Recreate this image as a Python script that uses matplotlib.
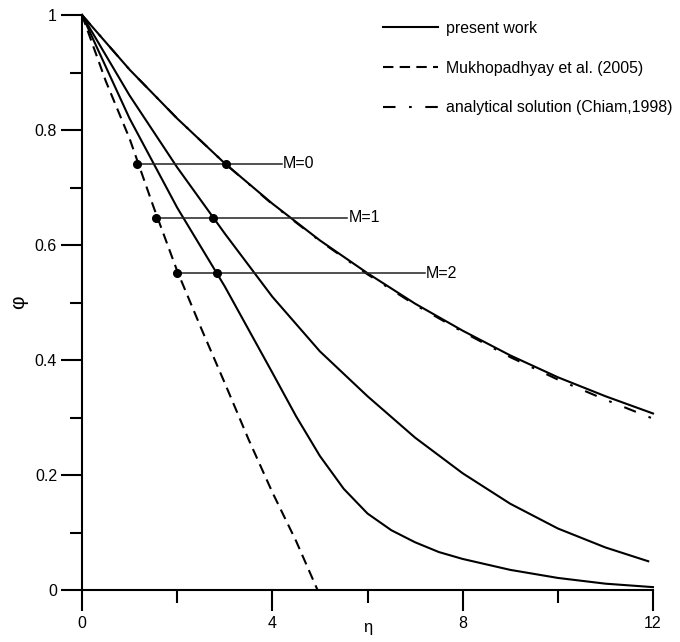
#! /usr/bin/env python3
# -*- coding: utf-8 -*-
"""
    Temperature profiles phi(eta) for M = 0, 1, 2 compared with
    Mukhopadhyay et al. (2005) and the analytical solution (Chiam, 1998)
"""
import matplotlib.pyplot as plt
from matplotlib.ticker import FixedLocator

plt.rcParams['font.family'] = ['Liberation Sans', 'DejaVu Sans']

# present work, M = 0
ETA_M0 = [0, 1, 2, 3, 4, 5, 6, 7, 8, 9, 10, 11, 12]
PHI_M0 = [1.0, 0.905, 0.82, 0.742, 0.672, 0.608, 0.551, 0.498, 0.451, 0.408,
          0.37, 0.337, 0.307]
# present work, M = 1
ETA_M1 = [0, 1, 2, 3, 4, 5, 6, 7, 8, 9, 10, 11, 11.9]
PHI_M1 = [1.0, 0.86, 0.735, 0.62, 0.51, 0.415, 0.337, 0.265, 0.203, 0.15,
          0.107, 0.074, 0.05]
# present work, M = 2
ETA_M2 = [0, 1, 2, 3, 4, 4.5, 5, 5.5, 6, 6.5, 7, 7.5, 8, 9, 10, 11, 12]
PHI_M2 = [1.0, 0.82, 0.665, 0.528, 0.378, 0.302, 0.233, 0.176, 0.133, 0.104,
          0.083, 0.066, 0.054, 0.035, 0.021, 0.011, 0.005]
# Mukhopadhyay et al. (2005)
ETA_MUK = [0, 0.5, 1.0, 1.5, 2.0, 2.5, 3.0, 3.5, 4.0, 4.5, 4.95]
PHI_MUK = [1.0, 0.885, 0.785, 0.667, 0.555, 0.456, 0.36, 0.262, 0.17, 0.085, 0.0]
# analytical solution (Chiam, 1998)
ETA_AN = [0, 1, 2, 3, 4, 5, 6, 7, 8, 9, 10, 11, 12]
PHI_AN = [1.0, 0.905, 0.82, 0.742, 0.671, 0.607, 0.549, 0.496, 0.449, 0.405,
          0.366, 0.331, 0.298]

# M markers: level, left dot, right dot, end of line
M_LABELS = ['M=0', 'M=1', 'M=2']
M_LEVEL = [0.741, 0.647, 0.551]
M_LEFT = [1.16, 1.55, 2.0]
M_RIGHT = [3.03, 2.75, 2.84]
M_END = [4.2, 5.57, 7.2]

fig = plt.figure(figsize=(6.8, 6.42), dpi=100)
ax = fig.add_axes([82 / 680, 1 - 590 / 642, 571 / 680, 575 / 642])

LW = 1.5
ax.plot(ETA_AN, PHI_AN, color='black', lw=LW, dashes=(6, 6.5, 1.3, 6.5),
        clip_on=False, label='analytical solution (Chiam,1998)', zorder=3)
ax.plot(ETA_M0, PHI_M0, color='black', lw=LW, clip_on=False,
        label='present work', zorder=2)
ax.plot(ETA_M1, PHI_M1, color='black', lw=LW, clip_on=False, zorder=2)
ax.plot(ETA_M2, PHI_M2, color='black', lw=LW, clip_on=False, zorder=2)
ax.plot(ETA_MUK, PHI_MUK, color='black', lw=LW, dashes=(5, 3), clip_on=False,
        label='Mukhopadhyay et al. (2005)', zorder=2)

for lab, lev, x0, x1, x2 in zip(M_LABELS, M_LEVEL, M_LEFT, M_RIGHT, M_END):
    ax.plot([x0, x2], [lev, lev], color='#222222', lw=1.1, zorder=4)
    ax.plot([x0, x1], [lev, lev], 'o', color='black', ms=5.5, zorder=5)
    ax.annotate(lab, (x2, lev), xytext=(1, 0), textcoords='offset points',
                ha='left', va='center', fontsize=11.5)

ax.set_xlim(0, 12)
ax.set_ylim(0, 1)
for side in ['top', 'right']:
    ax.spines[side].set_visible(False)
for side in ['left', 'bottom']:
    ax.spines[side].set_linewidth(1.5)

ax.xaxis.set_major_locator(FixedLocator([0, 4, 8, 12]))
ax.xaxis.set_minor_locator(FixedLocator([2, 6, 10]))
ax.yaxis.set_major_locator(FixedLocator([0, 0.2, 0.4, 0.6, 0.8, 1.0]))
ax.yaxis.set_minor_locator(FixedLocator([0.1, 0.3, 0.5, 0.7, 0.9]))
ax.set_xticklabels(['0', '4', '8', '12'])
ax.set_yticklabels(['0', '0.2', '0.4', '0.6', '0.8', '1'])
ax.tick_params(axis='y', which='major', length=15, width=1.5, labelsize=11.5, pad=3)
ax.tick_params(axis='y', which='minor', length=8.5, width=1.5)
ax.tick_params(axis='x', which='major', length=15, width=1.5, labelsize=11.5, pad=4)
ax.tick_params(axis='x', which='minor', length=9, width=1.5)

ax.set_xlabel('η', fontsize=12)
ax.xaxis.set_label_coords(0.5, -0.052)
ax.set_ylabel('φ', fontsize=15)
ax.yaxis.set_label_coords(-0.095, 0.5)

handles, labels = ax.get_legend_handles_labels()
order = [1, 2, 0]
ax.legend([handles[i] for i in order], [labels[i] for i in order],
          loc='upper left', bbox_to_anchor=(383 / 680, 1 - 21 / 642),
          bbox_transform=fig.transFigure, frameon=False, fontsize=11.4,
          handlelength=3.5, handletextpad=0.45, labelspacing=1.55,
          borderpad=0, borderaxespad=0)

fig.savefig('out.png', dpi=100)
